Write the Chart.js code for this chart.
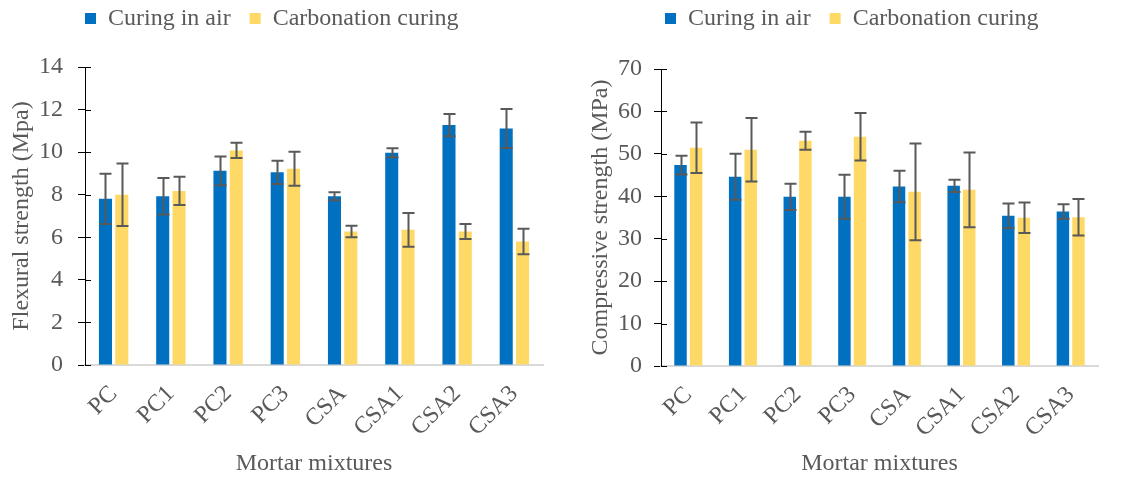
<!DOCTYPE html>
<html>
<head>
<meta charset="utf-8">
<script src="https://cdn.jsdelivr.net/npm/chart.js@4/dist/chart.umd.min.js"></script>
<style>
  html, body { margin: 0; padding: 0; background: #fff; }
  #wrap { position: relative; width: 1130px; height: 478px; overflow: hidden; }
  .panel { position: absolute; top: 0; width: 565px; height: 478px; }
  canvas { display: block; }
</style>
</head>
<body>
<div id="wrap">
  <div class="panel" style="left:0"><canvas id="flexural" width="565" height="478"></canvas></div>
  <div class="panel" style="left:565px"><canvas id="compressive" width="565" height="478"></canvas></div>
</div>
<script>
// Mortar mixtures on the category axis
const mixtures = ['PC', 'PC1', 'PC2', 'PC3', 'CSA', 'CSA1', 'CSA2', 'CSA3'];
const seriesNames = ['Curing in air', 'Carbonation curing'];

// Flexural strength (MPa) with standard deviation
const flexAir      = [7.81, 7.93, 9.12, 9.05, 7.93, 9.97, 11.27, 11.11];
const flexAirErr   = [1.18, 0.86, 0.67, 0.55, 0.19, 0.21, 0.52, 0.92];
const flexCarb     = [8.00, 8.18, 10.08, 9.22, 6.27, 6.35, 6.27, 5.80];
const flexCarbErr  = [1.47, 0.66, 0.36, 0.80, 0.27, 0.79, 0.35, 0.60];

// Compressive strength (MPa) with standard deviation
const compAir      = [47.35, 44.60, 39.88, 39.88, 42.32, 42.47, 35.39, 36.42];
const compAirErr   = [2.20, 5.40, 3.10, 5.20, 3.70, 1.45, 2.90, 1.73];
const compCarb     = [51.44, 50.97, 53.09, 54.03, 41.06, 41.53, 34.92, 35.08];
const compCarbErr  = [5.98, 7.47, 2.12, 5.60, 11.40, 8.80, 3.60, 4.30];

const BLUE = '#0070C0';
const YELLOW = '#FFD966';
const GREY = '#595959';
const FONT_SIZE = 24;

Chart.defaults.font.family = "'Liberation Serif', 'Times New Roman', serif";
Chart.defaults.color = GREY;

// Vertical error bars with caps, drawn from each dataset's "errors" array
const errorBars = {
  id: 'errorBars',
  afterDatasetsDraw(chart) {
    const ctx = chart.ctx;
    const y = chart.scales.y;
    ctx.save();
    ctx.strokeStyle = GREY;
    ctx.lineWidth = 2;
    chart.data.datasets.forEach((ds, i) => {
      const meta = chart.getDatasetMeta(i);
      meta.data.forEach((bar, j) => {
        const v = ds.data[j], e = ds.errors[j];
        const x = Math.round(bar.x) + 0.5;
        const top = y.getPixelForValue(v + e);
        const bot = y.getPixelForValue(v - e);
        ctx.beginPath();
        ctx.moveTo(x, top); ctx.lineTo(x, bot);
        ctx.moveTo(x - 6, top); ctx.lineTo(x + 6, top);
        ctx.moveTo(x - 6, bot); ctx.lineTo(x + 6, bot);
        ctx.stroke();
      });
    });
    ctx.restore();
  }
};

// Tick marks that cross the value axis (inner half)
const innerTicks = {
  id: 'innerTicks',
  afterDraw(chart) {
    const ctx = chart.ctx;
    const y = chart.scales.y;
    const left = chart.chartArea.left;
    ctx.save();
    ctx.strokeStyle = '#000';
    ctx.lineWidth = 1;
    y.ticks.forEach(t => {
      const py = Math.round(y.getPixelForValue(t.value)) + 0.5;
      ctx.beginPath();
      ctx.moveTo(left, py); ctx.lineTo(left + 6, py);
      ctx.stroke();
    });
    ctx.restore();
  }
};

// Places the legend row above the plot
const legendPlacement = {
  id: 'legendPlacement',
  afterLayout(chart, args, opts) {
    if (!chart.legend) return;
    chart.legend.left = opts.left;
    chart.legend.top = opts.top;
  }
};

function buildChart(id, o) {
  return new Chart(document.getElementById(id), {
    type: 'bar',
    data: {
      labels: mixtures,
      datasets: [
        { label: seriesNames[0], data: o.air, errors: o.airErr, backgroundColor: BLUE,
          categoryPercentage: 0.57, barPercentage: 0.8 },
        { label: seriesNames[1], data: o.carb, errors: o.carbErr, backgroundColor: YELLOW,
          categoryPercentage: 0.57, barPercentage: 0.8 }
      ]
    },
    options: {
      responsive: false,
      animation: false,
      devicePixelRatio: 1,
      layout: { padding: { top: o.padTop, right: o.padRight, bottom: 0, left: 0 } },
      plugins: {
        legend: {
          position: 'top',
          align: 'start',
          labels: { boxWidth: 11, boxHeight: 11, padding: 19, color: GREY, font: { size: FONT_SIZE } }
        },
        tooltip: { enabled: false },
        legendPlacement: { left: o.legendLeft, top: -12.5 }
      },
      scales: {
        x: {
          grid: { display: false },
          border: { display: true, color: '#D9D9D9', width: 2 },
          ticks: { minRotation: 45, maxRotation: 45, padding: 7, color: GREY, font: { size: FONT_SIZE } },
          title: { display: true, text: 'Mortar mixtures', color: GREY, font: { size: FONT_SIZE },
                   padding: { top: 0, bottom: 0 } },
          afterFit(s) { s.height = o.xHeight; }
        },
        y: {
          min: 0,
          max: o.max,
          ticks: { stepSize: o.step, padding: o.yTickPad, color: GREY, font: { size: FONT_SIZE } },
          grid: { drawOnChartArea: false, drawTicks: true, tickLength: 7, color: '#000', lineWidth: 1 },
          border: { display: true, color: '#000', width: 1 },
          title: { display: true, text: o.yTitle, color: GREY, font: { size: FONT_SIZE },
                   padding: { top: o.yTitlePad, bottom: 0 } },
          afterFit(s) { s.width = o.yWidth; }
        }
      }
    },
    plugins: [errorBars, innerTicks, legendPlacement]
  });
}

buildChart('flexural', {
  air: flexAir, airErr: flexAirErr, carb: flexCarb, carbErr: flexCarbErr,
  max: 14, step: 2, yTitle: 'Flexural strength (Mpa)',
  yWidth: 85, yTickPad: 15, yTitlePad: 7, xHeight: 113,
  padTop: 14, padRight: 22, legendLeft: 66
});

buildChart('compressive', {
  air: compAir, airErr: compAirErr, carb: compCarb, carbErr: compCarbErr,
  max: 70, step: 10, yTitle: 'Compressive strength (MPa)',
  yWidth: 96, yTickPad: 12, yTitlePad: 21, xHeight: 112,
  padTop: 16, padRight: 32, legendLeft: 81
});
</script>
</body>
</html>
